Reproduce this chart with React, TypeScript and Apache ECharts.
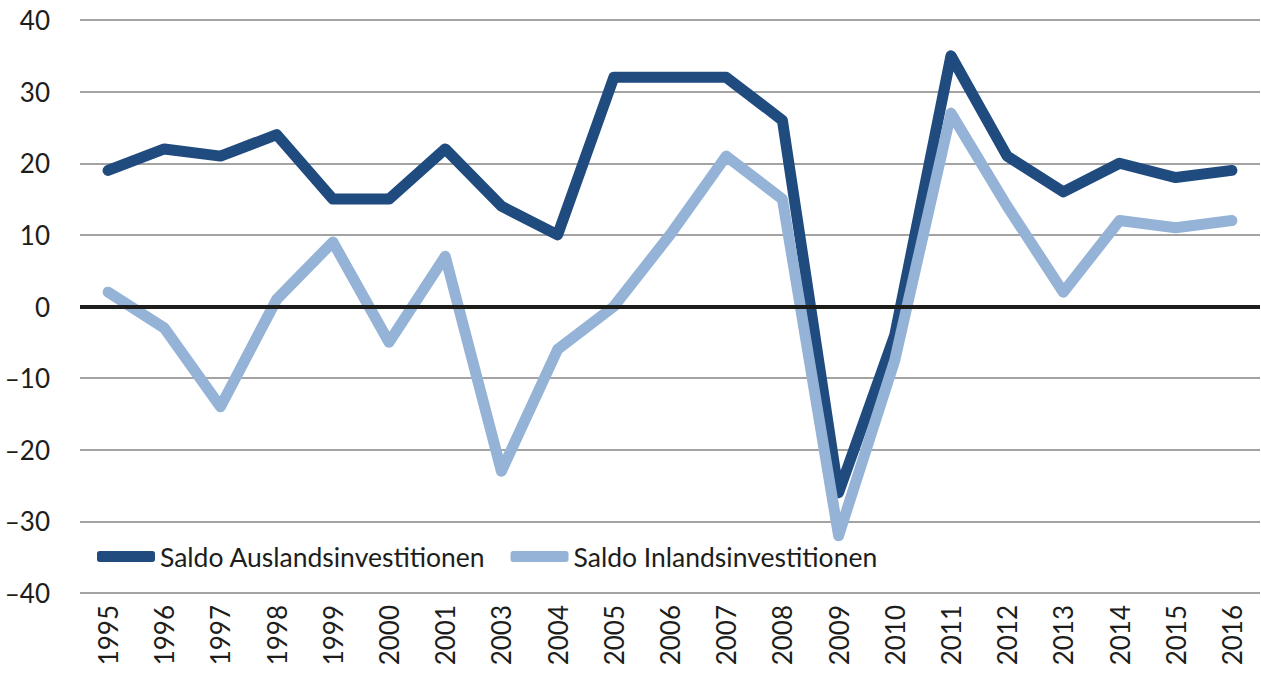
import React, { useEffect, useRef } from "react";
import * as echarts from "echarts";

const years = ["1995","1996","1997","1998","1999","2000","2001","2003","2004","2005","2006","2007","2008","2009","2010","2011","2012","2013","2014","2015","2016"];
const auslandName = "Saldo Auslandsinvestitionen";
const inlandName = "Saldo Inlandsinvestitionen";
const ausland = [19, 22, 21, 24, 15, 15, 22, 14, 10, 32, 32, 32, 26, -26, -4, 35, 21, 16, 20, 18, 19];
const inland = [2, -3, -14, 1, 9, -5, 7, -23, -6, 0, 10, 21, 15, -32, -7.5, 27, 14, 2, 12, 11, 12];

const FONT = "Lato, 'Noto Sans', sans-serif";
const TEXT = "#1d1d1b";

export default function App() {
  const ref = useRef<HTMLDivElement>(null);
  useEffect(() => {
    if (!ref.current) return;
    const chart = echarts.init(ref.current, null, { renderer: "svg" });
    chart.setOption({
      animation: false,
      grid: { left: 80, right: 1, top: 20, bottom: 87, containLabel: false },
      legend: {
        data: [auslandName, inlandName],
        left: 92,
        top: 538,
        icon: "roundRect",
        itemWidth: 58,
        itemHeight: 11,
        itemGap: 25,
        textStyle: { fontFamily: FONT, fontSize: 26.5, color: TEXT, padding: [0, 0, 0, 0] },
        selectedMode: false,
      },
      xAxis: {
        type: "category",
        data: years,
        boundaryGap: true,
        axisLine: { show: false, onZero: false },
        axisTick: { show: false },
        axisLabel: {
          rotate: 90,
          margin: 12,
          fontFamily: FONT,
          fontSize: 26,
          color: TEXT,
          interval: 0,
        },
        splitLine: { show: false },
      },
      yAxis: {
        type: "value",
        min: -40,
        max: 40,
        interval: 10,
        axisLine: { show: false },
        axisTick: { show: false },
        axisLabel: {
          margin: 30,
          fontFamily: FONT,
          fontSize: 26,
          color: TEXT,
          formatter: (v: number) => String(v).replace("-", "\u2013"),
        },
        splitLine: { show: true, lineStyle: { color: "#a3a3a3", width: 2 } },
      },
      series: [
        {
          type: "line",
          name: "zero",
          data: [],
          z: 1,
          silent: true,
          markLine: {
            silent: true,
            symbol: "none",
            label: { show: false },
            lineStyle: { color: "#1d1d1b", width: 4, type: "solid" },
            data: [{ yAxis: 0 }],
          },
        },
        {
          type: "line",
          name: auslandName,
          data: ausland,
          z: 3,
          showSymbol: false,
          symbol: "none",
          lineStyle: { color: "#1f4b7f", width: 11, cap: "round", join: "round" },
          itemStyle: { color: "#1f4b7f" },
        },
        {
          type: "line",
          name: inlandName,
          data: inland,
          z: 4,
          showSymbol: false,
          symbol: "none",
          lineStyle: { color: "#95b3d7", width: 11, cap: "round", join: "round" },
          itemStyle: { color: "#95b3d7" },
        },
      ],
    });
    return () => chart.dispose();
  }, []);
  return (
    <div
      ref={ref}
      style={{ position: "absolute", left: 0, top: 0, width: 1261, height: 680, background: "#fff" }}
    />
  );
}
